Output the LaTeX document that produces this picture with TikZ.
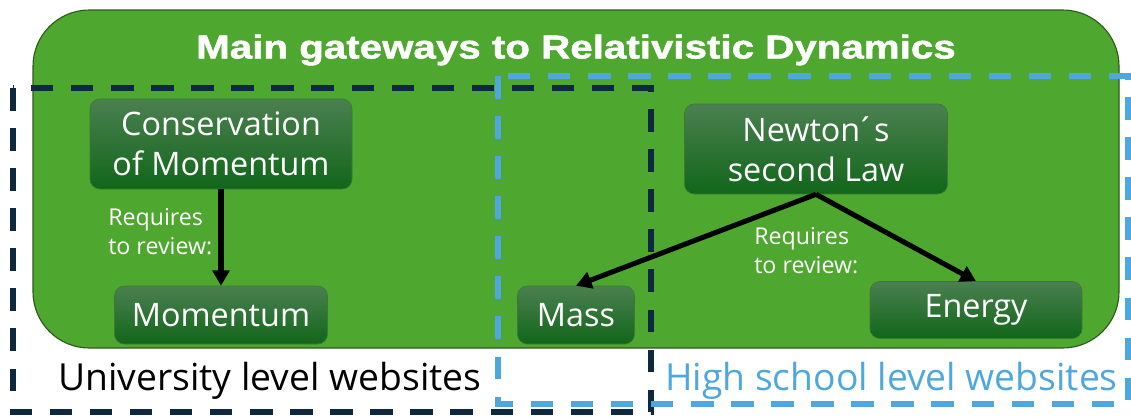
\documentclass[tikz,border=0pt]{standalone}
\usepackage{fontspec}
\setmainfont{Open Sans}
\newfontfamily\titlefont[FakeStretch=1.22,BoldFeatures={FakeStretch=1.22,FakeBold=1.5}]{Liberation Sans}
\usetikzlibrary{arrows.meta}

\definecolor{gwgreen}{HTML}{4EA72E}
\definecolor{gwedge}{HTML}{2F5A1E}
\definecolor{topictop}{HTML}{4B8050}
\definecolor{topicbot}{HTML}{11661A}
\definecolor{topicedge}{HTML}{3B7A35}
\definecolor{uninavy}{HTML}{0E2841}
\definecolor{hsblue}{HTML}{4EA8DE}

\begin{document}
\begin{tikzpicture}[x=0.025cm,y=-0.025cm,>={Triangle[length=11pt,width=12pt]}]
    \tikzstyle{topic}=[rounded corners=7pt,draw=topicedge,top color=topictop,bottom color=topicbot,
        text=white,align=center,inner sep=0pt,font=\fontsize{23}{28.5}\selectfont]
    \tikzstyle{review}=[anchor=west,text=white,align=left,inner sep=0pt,font=\fontsize{16.5}{20.5}\selectfont]
    \tikzstyle{level}=[line width=3.6pt,dash pattern=on 16pt off 12.5pt]
    \useasboundingbox (0,0) rectangle (1131,416);

    % the big green panel and its heading
    \draw[gwedge,fill=gwgreen,line width=0.8pt,rounded corners=40pt] (33,10) rectangle (1119,348);
    \node[text=white,font=\titlefont\bfseries\fontsize{23.5}{28}\selectfont] (title) at (576,50)
        {Main gateways to Relativistic Dynamics};

    % which websites cover which topics
    \draw[level,uninavy] (13,88) rectangle (651,412);
    \draw[level,hsblue] (498,76) rectangle (1128,404);

    \foreach \name/\x/\y/\w/\h/\txt in {cons/221/144/262/90/{Conservation\\of Momentum},
            mom/221/315/213/58/Momentum, mass/576/315/117/58/Mass,
            newton/816/149/263/90/{Newton\,\'{}s\\second Law}, energy/976/310/212/57/Energy}
        \node[topic,minimum width={\w*0.025cm},minimum height={\h*0.025cm}] (\name) at (\x,\y) {\txt};

    \draw[->,line width=3.6pt] (cons) -- (mom);
    \draw[->,line width=3.6pt] (newton.south) -- (mass.north);
    \draw[->,line width=3.6pt] (newton.south) -- (energy.north);

    \node[review] (req-1) at (108,232) {Requires\\to review:};
    \node[review] (req-2) at (754,251) {Requires\\to review:};

    \node[anchor=west,inner sep=0pt,font=\fontsize{26.5}{30}\selectfont] (uni) at (58,381)
        {University level websites};
    \node[anchor=west,inner sep=0pt,text=hsblue,font=\fontsize{26.5}{30}\selectfont] (hs) at (665,381)
        {High school level websites};
\end{tikzpicture}
\end{document}
